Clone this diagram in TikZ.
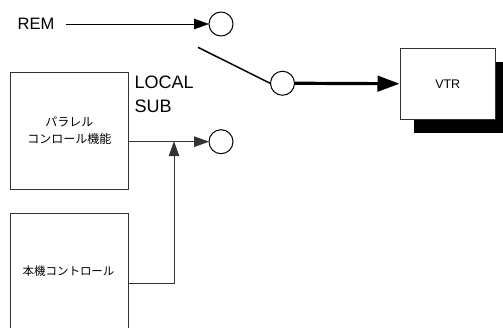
\documentclass[tikz,border=0pt]{standalone}
\usepackage{fontspec}
\setmainfont{Liberation Sans}
\newfontfamily\cjk{Noto Sans CJK JP}
\usetikzlibrary{arrows.meta,positioning}
\tikzset{
  blockbox/.style={draw=black!80,line width=1pt,fill=white,inner sep=0pt,anchor=north west,align=center,font=\fontsize{12}{17}\selectfont\cjk},
  terminal/.style={circle,draw=black,line width=1pt,fill=white,minimum size=24pt,inner sep=0pt},
  thin arrow/.style={line width=1pt,-{Triangle[length=15pt,width=10.5pt]},shorten >=-0.5pt},
  thick arrow/.style={line width=3.2pt,-{Triangle[length=22pt,width=15.5pt]},shorten >=0.5pt},
  label text/.style={inner sep=0pt,anchor=base west,font=\fontsize{18}{18}\selectfont}
}
\begin{document}
\begin{tikzpicture}[x=1pt,y=-1pt]
\useasboundingbox (0,0) rectangle (503,327);
\clip (0,0) rectangle (503,327);
\fill[black] (414,62) rectangle (520,132.5);
\node[blockbox,minimum width=94.5pt,minimum height=70.5pt] (vtr) at (400,48) {\fontsize{12.5}{14}\selectfont\rmfamily VTR};
\node[blockbox,minimum width=117.5pt,minimum height=117.5pt] (par) at (10,71.5) {パラレル\\コンロール機能};
\node[draw=black!80,line width=1pt,fill=white,inner sep=0pt,anchor=north west,minimum width=117.5pt,minimum height=130pt] (hon) at (10,212.5) {};
\node[inner sep=0pt,font=\fontsize{11.5}{15.5}\selectfont\cjk] (honlabel) at (68.5,271.5) {本機コントロール};
\node[terminal] (t1) at (221,24) {};
\node[terminal] (t2) at (221,141.7) {};
\node[terminal] (t3) at (282.5,83.25) {};
\node[label text,font=\fontsize{16.5}{16.5}\selectfont] (rem) at (17.5,29.5) {REM};
\node[label text] (local) at (134.5,88.5) {LOCAL};
\node[label text] (sub) at (134.5,112.7) {SUB};
\coordinate (remstart) at (66,24);
\coordinate (swstart) at (198,47.3);
\coordinate (join) at (174,141.7);
\coordinate (honout) at (127.5,283.5);
\draw[thin arrow] (remstart) -- (t1.west);
\draw[line width=1.5pt] (swstart) -- (t3.west);
\draw[thick arrow] (t3.east) -- (vtr.west);
\draw[thin arrow,draw=black!80] (par.east|-t2) -- (t2.west);
\draw[thin arrow,draw=black!80] (honout) -| (join);
\end{tikzpicture}
\end{document}
